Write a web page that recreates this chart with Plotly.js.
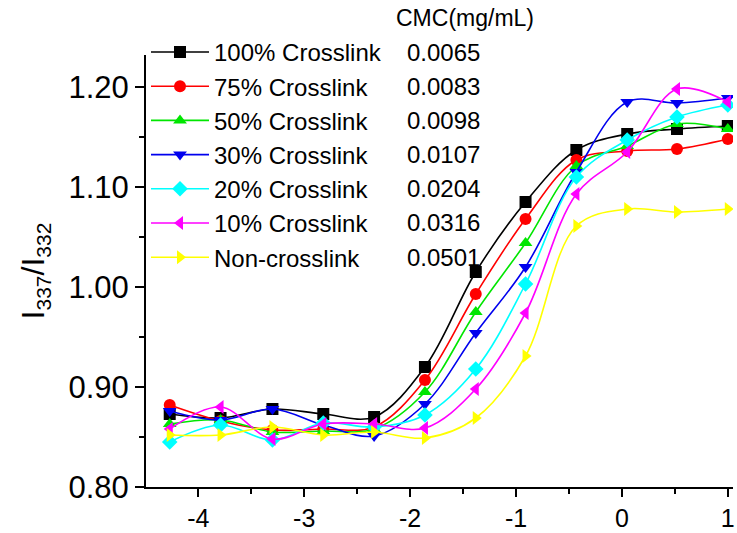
<!DOCTYPE html>
<html>
<head>
<meta charset="utf-8">
<script src="https://cdn.plot.ly/plotly-3.0.1.min.js"></script>
<style>html,body{margin:0;padding:0;background:#fff;}#chart{width:737px;height:533px;}</style>
</head>
<body>
<div id="chart"></div>
<script>
// ---- data ----
const logConc = [-4.27, -3.79, -3.3, -2.82, -2.34, -1.86, -1.38, -0.91, -0.43, 0.05, 0.52, 1.0];

const names = ["100% Crosslink", "75% Crosslink", "50% Crosslink", "30% Crosslink",
               "20% Crosslink", "10% Crosslink", "Non-crosslink"];
const cmcValues = ["0.0065", "0.0083", "0.0098", "0.0107", "0.0204", "0.0316", "0.0501"];

const crosslink100 = [0.873, 0.869, 0.878, 0.873, 0.870, 0.920, 1.015, 1.085, 1.137, 1.153, 1.158, 1.161];
const crosslink75  = [0.882, 0.866, 0.857, 0.858, 0.860, 0.907, 0.993, 1.068, 1.127, 1.136, 1.138, 1.148];
const crosslink50  = [0.863, 0.867, 0.855, 0.856, 0.858, 0.895, 0.975, 1.044, 1.121, 1.141, 1.163, 1.158];
const crosslink30  = [0.876, 0.867, 0.878, 0.862, 0.851, 0.883, 0.954, 1.020, 1.115, 1.185, 1.184, 1.189];
const crosslink20  = [0.845, 0.862, 0.847, 0.864, 0.860, 0.872, 0.918, 1.003, 1.110, 1.147, 1.170, 1.182];
const crosslink10  = [0.858, 0.880, 0.848, 0.863, 0.863, 0.859, 0.898, 0.974, 1.093, 1.135, 1.198, 1.185];
const noncrosslink = [0.852, 0.852, 0.860, 0.852, 0.855, 0.849, 0.869, 0.931, 1.061, 1.078, 1.075, 1.078];

const xTickVals = [-4, -3, -2, -1, 0, 1];
const xTickLabels = ["-4", "-3", "-2", "-1", "0", "1"];
const yTickVals = [0.8, 0.9, 1.0, 1.1, 1.2];
const yTickLabels = ["0.80", "0.90", "1.00", "1.10", "1.20"];

// ---- styles ----
const series = [crosslink100, crosslink75, crosslink50, crosslink30, crosslink20, crosslink10, noncrosslink];
const colors = ["#000000", "#ff0000", "#00e600", "#0000ee", "#00ffff", "#ff00ff", "#ffff00"];
const symbols = ["square", "circle", "triangle-up", "triangle-down", "diamond", "triangle-left", "triangle-right"];
const FONT = "Arial, 'Liberation Sans', sans-serif";

const traces = series.map((ys, i) => ({
  x: logConc, y: ys, name: names[i], type: "scatter", mode: "lines+markers",
  line: {color: colors[i], width: 1.6, shape: "spline", smoothing: 1},
  marker: {color: colors[i], symbol: symbols[i], size: 12}
}));

const W = 737, H = 533, mL = 146, mR = 4, mT = 55, mB = 46;
const plotH = H - mT - mB;
const LEG_FONT = 24;
const firstRowPx = 52, rowStep = LEG_FONT * 1.3 + 3;
const annotations = [{
  xref: "paper", yref: "paper", x: (465 - mL) / (W - mL - mR), y: 1 - (18 - mT) / plotH,
  xanchor: "center", yanchor: "middle", showarrow: false, text: "CMC(mg/mL)",
  font: {family: FONT, size: 23, color: "#000"}
}];
cmcValues.forEach((v, i) => annotations.push({
  xref: "paper", yref: "paper", x: (405 - mL) / (W - mL - mR),
  y: 1 - (firstRowPx + i * rowStep - mT) / plotH,
  xanchor: "left", yanchor: "middle", showarrow: false, text: v,
  font: {family: FONT, size: LEG_FONT, color: "#000"}
}));

const layout = {
  width: W, height: H,
  margin: {l: mL, r: mR, t: mT, b: mB},
  paper_bgcolor: "#fff", plot_bgcolor: "#fff",
  font: {family: FONT, color: "#000"},
  showlegend: true,
  legend: {
    x: 0, xanchor: "left", y: 1 - (firstRowPx - 5 - rowStep / 2 - mT) / plotH, yanchor: "top",
    bgcolor: "rgba(0,0,0,0)", borderwidth: 0, itemwidth: 58,
    font: {family: FONT, size: LEG_FONT, color: "#000"}, tracegroupgap: 0
  },
  xaxis: {
    range: [-4.494, 1.049], showgrid: false, zeroline: false,
    showline: true, linecolor: "#000", linewidth: 2, mirror: false,
    ticks: "outside", ticklen: 8, tickwidth: 2, tickcolor: "#000",
    tickmode: "array", tickvals: xTickVals, ticktext: xTickLabels,
    tickfont: {family: FONT, size: 25, color: "#000"},
    minor: {dtick: 0.5, tick0: 0, ticks: "outside", ticklen: 5, tickwidth: 2, tickcolor: "#000"}
  },
  yaxis: {
    range: [0.8, 1.232], showgrid: false, zeroline: false,
    showline: true, linecolor: "#000", linewidth: 2, mirror: false,
    ticks: "outside", ticklen: 9, tickwidth: 2, tickcolor: "#000",
    tickmode: "array", tickvals: yTickVals, ticktext: yTickLabels,
    tickfont: {family: FONT, size: 31, color: "#000"},
    minor: {dtick: 0.05, tick0: 0, ticks: "outside", ticklen: 5, tickwidth: 2, tickcolor: "#000"},
    title: {
      text: "I<sub><span style='font-size:21px'>337</span></sub>/I<sub><span style='font-size:21px'>332</span></sub>",
      font: {family: FONT, size: 32, color: "#000"}, standoff: 14
    }
  },
  annotations: annotations
};

Plotly.newPlot("chart", traces, layout, {displayModeBar: false, staticPlot: true});
</script>
</body>
</html>
